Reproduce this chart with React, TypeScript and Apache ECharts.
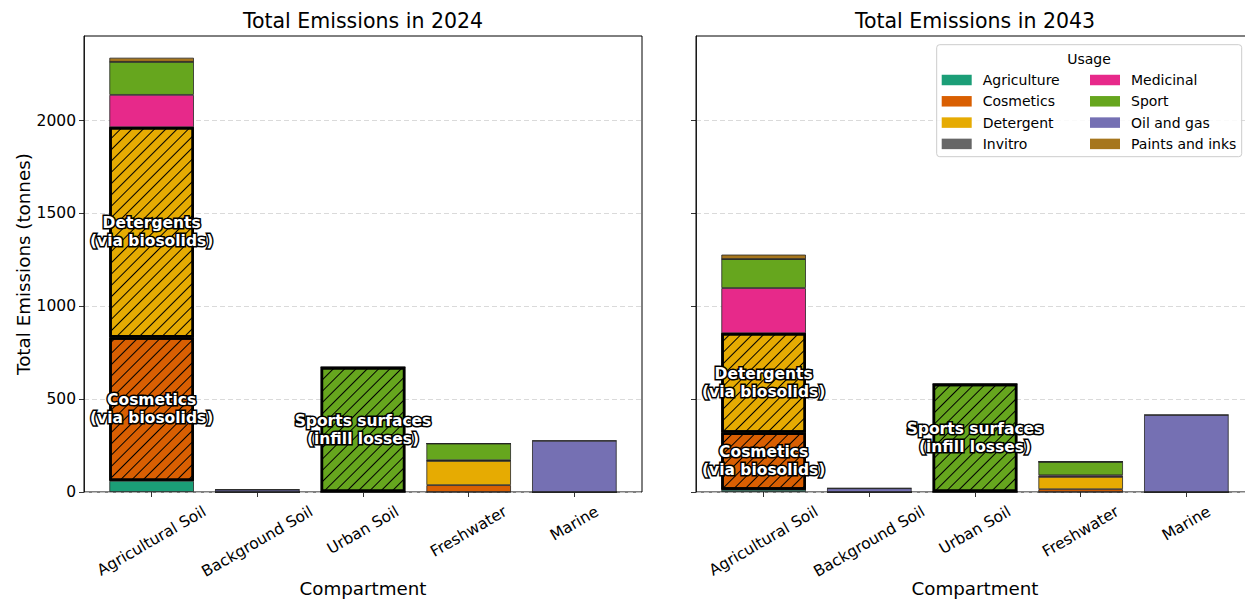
import React, { useEffect, useRef } from 'react';
import * as echarts from 'echarts';

// Compartments on the x axis
const categories = ['Agricultural Soil', 'Background Soil', 'Urban Soil', 'Freshwater', 'Marine'];

// Usage groups (stack order, bottom to top) and their colours
const usages = ['Agriculture', 'Cosmetics', 'Detergent', 'Invitro', 'Medicinal', 'Sport', 'Oil and gas', 'Paints and inks'];
const usageColors = ['#1b9e77', '#d95f02', '#e6ab02', '#666666', '#e7298a', '#66a61e', '#7570b3', '#a6761d'];

// Emissions in 2024 (tonnes), one value per compartment
const agriculture2024 = [60, 0, 0, 0, 0];
const cosmetics2024 = [772, 0, 0, 37, 0];
const detergent2024 = [1132, 0, 0, 131, 0];
const invitro2024 = [0, 0, 0, 0, 0];
const medicinal2024 = [174, 0, 0, 3, 0];
const sport2024 = [178, 0, 672, 90, 0];
const oilGas2024 = [0, 13, 0, 0, 276];
const paints2024 = [22, 0, 0, 0, 0];

// Emissions in 2043 (tonnes)
const agriculture2043 = [12, 0, 0, 0, 0];
const cosmetics2043 = [308, 0, 0, 15, 0];
const detergent2043 = [535, 0, 0, 67, 0];
const invitro2043 = [0, 0, 0, 0, 0];
const medicinal2043 = [243, 0, 0, 8, 0];
const sport2043 = [156, 0, 582, 73, 0];
const oilGas2043 = [0, 20, 0, 0, 415];
const paints2043 = [24, 0, 0, 0, 0];

// Shared y axis
const yTickValues = [0, 500, 1000, 1500, 2000];
const yMax = 2455;

// Pathways that are outlined, hatched and annotated
const highlights = [
  { usage: 'Cosmetics', category: 'Agricultural Soil', text: 'Cosmetics\n(via biosolids)' },
  { usage: 'Detergent', category: 'Agricultural Soil', text: 'Detergents\n(via biosolids)' },
  { usage: 'Sport', category: 'Urban Soil', text: 'Sports surfaces\n(infill losses)' },
];

const panels = [
  {
    title: 'Total Emissions in 2024',
    values: [agriculture2024, cosmetics2024, detergent2024, invitro2024, medicinal2024, sport2024, oilGas2024, paints2024],
  },
  {
    title: 'Total Emissions in 2043',
    values: [agriculture2043, cosmetics2043, detergent2043, invitro2043, medicinal2043, sport2043, oilGas2043, paints2043],
  },
];

const FONT = "'DejaVu Sans', sans-serif";
const FRAME_TOP = 36;
const FRAME_H = 456;
const FRAME_W = 558;
const FRAME_LEFTS = [84, 696];
const UNIT = FRAME_W / 5.28; // one category step; x range is -0.64 .. 4.64
const INSET = 0.14 * UNIT;
const BAR_W = 0.8 * UNIT;
const TICK_FONT = 15.5;
const LEGEND_FONT = 14;
const LABEL_ROT = Math.PI / 6;

const hatch = {
  symbol: 'rect',
  symbolSize: 1,
  dashArrayX: [1, 0],
  dashArrayY: [1, 7],
  rotation: -Math.PI / 4,
  color: '#000',
};

function buildOption() {
  const grid: any[] = [];
  const xAxis: any[] = [];
  const yAxis: any[] = [];
  const series: any[] = [];
  const title: any[] = [];

  panels.forEach((panel, pi) => {
    const fl = FRAME_LEFTS[pi];
    const frameIdx = pi * 2;
    const dataIdx = pi * 2 + 1;

    title.push({
      text: panel.title,
      left: fl + FRAME_W / 2,
      top: 10,
      textAlign: 'center',
      padding: 0,
      textStyle: { fontSize: 20.5, fontWeight: 'normal', fontFamily: FONT, color: '#000' },
    });

    grid.push({
      left: fl, top: FRAME_TOP, width: FRAME_W, height: FRAME_H,
      show: true, borderColor: '#000', borderWidth: 1, backgroundColor: 'rgba(0,0,0,0)',
      outerBoundsMode: 'none',
    });
    grid.push({
      left: fl + INSET, top: FRAME_TOP, width: UNIT * 5, height: FRAME_H,
      outerBoundsMode: 'none',
    });

    xAxis.push({ type: 'value', gridIndex: frameIdx, min: 0, max: 1, show: false });
    xAxis.push({
      type: 'category',
      gridIndex: dataIdx,
      data: categories,
      axisLine: { show: false },
      axisTick: { show: true, alignWithLabel: true, interval: 0, length: 5, lineStyle: { color: '#000', width: 0.8 } },
      axisLabel: { show: false },
      splitLine: { show: false },
      name: 'Compartment',
      nameLocation: 'middle',
      nameGap: 87,
      nameTextStyle: { fontSize: 18.3, fontFamily: FONT, color: '#000' },
    });

    yAxis.push({
      type: 'value',
      gridIndex: frameIdx,
      min: 0,
      max: yMax,
      interval: 500,
      axisLine: { show: true, lineStyle: { color: '#000', width: 0.8 } },
      axisTick: { show: true, length: 5, customValues: yTickValues, lineStyle: { color: '#000', width: 0.8 } },
      axisLabel: {
        show: pi === 0, customValues: yTickValues, margin: 8, showMaxLabel: true, showMinLabel: true,
        formatter: (v: number) => String(v),
        fontSize: TICK_FONT, fontFamily: FONT, color: '#000',
      },
      splitLine: { show: true, lineStyle: { type: [5, 3], color: '#d0d0d0', width: 0.8 } },
      name: pi === 0 ? 'Total Emissions (tonnes)' : '',
      nameLocation: 'middle',
      nameGap: 52,
      nameTextStyle: { fontSize: 18.3, fontFamily: FONT, color: '#000' },
    });
    yAxis.push({ type: 'value', gridIndex: dataIdx, min: 0, max: yMax, show: false });

    // Stacked usage bars
    usages.forEach((u, k) => {
      series.push({
        type: 'bar',
        name: u,
        xAxisIndex: dataIdx,
        yAxisIndex: dataIdx,
        stack: 'usage' + pi,
        data: panel.values[k],
        barWidth: BAR_W,
        barGap: '-100%',
        itemStyle: { color: usageColors[k], borderColor: '#262626', borderWidth: 0.8 },
        emphasis: { disabled: true },
        z: 2,
      });
    });

    // Outlined, hatched pathways drawn over the stacks
    highlights.forEach((h, hi) => {
      const k = usages.indexOf(h.usage);
      const c = categories.indexOf(h.category);
      let below = 0;
      for (let j = 0; j < k; j++) below += panel.values[j][c];
      const stack = 'hl' + pi + '_' + hi;
      series.push({
        type: 'bar',
        name: 'base ' + h.text,
        xAxisIndex: dataIdx,
        yAxisIndex: dataIdx,
        stack,
        data: categories.map((_, i) => (i === c ? below : '-')),
        barWidth: BAR_W,
        barGap: '-100%',
        itemStyle: { color: 'rgba(0,0,0,0)', borderWidth: 0 },
        silent: true,
        emphasis: { disabled: true },
        z: 3,
      });
      series.push({
        type: 'bar',
        name: h.text,
        xAxisIndex: dataIdx,
        yAxisIndex: dataIdx,
        stack,
        data: categories.map((_, i) => (i === c ? panel.values[k][c] : '-')),
        barWidth: BAR_W,
        barGap: '-100%',
        itemStyle: { color: usageColors[k], borderColor: '#000', borderWidth: 2.4, decal: hatch },
        label: {
          show: true,
          position: 'inside',
          formatter: h.text,
          fontFamily: FONT,
          fontWeight: 'bold',
          fontSize: 15.5,
          lineHeight: 18,
          color: '#fff',
          textBorderColor: '#000',
          textBorderWidth: 3,
        },
        emphasis: { disabled: true },
        z: 4,
      });
    });
  });

  const legendCommon = {
    orient: 'vertical',
    itemWidth: 30,
    itemHeight: 10.5,
    itemGap: 4.3,
    padding: 0,
    icon: 'rect',
    selectedMode: false,
    itemStyle: { borderWidth: 0 },
    textStyle: { fontSize: LEGEND_FONT, fontFamily: FONT, color: '#000', lineHeight: 17, padding: [0, 0, 0, 6] },
    top: 71.5,
    z: 10,
  };

  return {
    animation: false,
    backgroundColor: '#fff',
    title,
    grid,
    xAxis,
    yAxis,
    series,
    legend: [
      { ...legendCommon, data: usages.slice(0, 4), left: 941.7 },
      { ...legendCommon, data: usages.slice(4), left: 1090 },
    ],
  };
}

export default function App() {
  const ref = useRef<HTMLDivElement>(null);

  useEffect(() => {
    if (!ref.current) return;
    const chart = echarts.init(ref.current, null, { renderer: 'svg' });
    chart.setOption(buildOption() as any);

    // Legend frame and its title
    const elements: any[] = [
      {
        type: 'rect',
        shape: { x: 936.7, y: 44.7, width: 305, height: 112, r: 3 },
        style: { fill: 'rgba(255,255,255,0.85)', stroke: '#cccccc', lineWidth: 1 },
        z: 5,
        silent: true,
      },
      {
        type: 'text',
        x: 1089,
        y: 58.5,
        style: { text: 'Usage', align: 'center', verticalAlign: 'middle', fontSize: LEGEND_FONT, fontFamily: FONT, fill: '#000' },
        z: 6,
        silent: true,
      },
    ];

    // Rotated compartment labels, centred under each tick
    const ctx = document.createElement('canvas').getContext('2d');
    if (ctx) ctx.font = `${TICK_FONT}px "DejaVu Sans"`;
    panels.forEach((_, pi) => {
      const axisY = chart.convertToPixel({ yAxisIndex: pi * 2 + 1 } as any, 0) as number;
      categories.forEach((c, i) => {
        const x = chart.convertToPixel({ xAxisIndex: pi * 2 + 1 } as any, i) as number;
        const w = ctx ? ctx.measureText(c).width : c.length * 9;
        const h = 18;
        const boxH = w * Math.sin(LABEL_ROT) + h * Math.cos(LABEL_ROT);
        elements.push({
          type: 'text',
          x,
          y: axisY + 10.5 + boxH / 2,
          rotation: LABEL_ROT,
          style: { text: c, align: 'center', verticalAlign: 'middle', fontSize: TICK_FONT, fontFamily: FONT, fill: '#000' },
          silent: true,
        });
      });
    });
    chart.setOption({ graphic: { elements } } as any);

    return () => chart.dispose();
  }, []);

  return <div ref={ref} style={{ position: 'absolute', left: 0, top: 0, width: 1245, height: 601 }} />;
}
